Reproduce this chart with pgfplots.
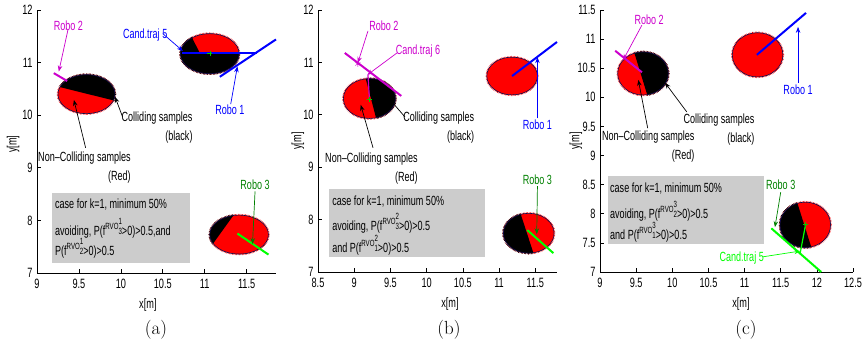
\documentclass[border=0pt]{standalone}
\usepackage{fontspec}
\usepackage{pgfplots}
\pgfplotsset{compat=1.18}
\usetikzlibrary{arrows.meta}
\newfontfamily\cf{Liberation Sans}[FakeStretch=0.68]
\definecolor{mag}{rgb}{0.8,0,0.8}
\definecolor{dkg}{rgb}{0,0.5,0}
\definecolor{lgr}{rgb}{0,1,0}
\definecolor{edgec}{rgb}{0.05,0.05,0.3}
\definecolor{boxg}{rgb}{0.8,0.8,0.8}
\tikzset{
  lab/.style={font=\cf\fontsize{13.3}{15}\selectfont, inner sep=0pt},
  lab2/.style={font=\cf\fontsize{13.3}{19}\selectfont, inner sep=0pt, align=right, anchor=north east},
  arr/.style={line width=0.7pt, -{Stealth[length=6pt,width=4.5pt]}},
  fuzz/.style={line width=2.4pt, dash pattern=on 0.5pt off 0.9pt},
}
\newcommand{\redblob}[4]{%
  \fill[red] (axis cs:#1,#2) ellipse [x radius=#3, y radius=#4];
  \draw[red, fuzz] (axis cs:#1,#2) ellipse [x radius=#3, y radius=#4];}
\newcommand{\blackpart}[5]{%
  \pgfplotsextra{\begin{scope}
    \clip #5;
    \fill[black] (axis cs:#1,#2) ellipse [x radius=#3, y radius=#4];
    \draw[black, fuzz] (axis cs:#1,#2) ellipse [x radius=#3, y radius=#4];
  \end{scope}}}
\newcommand{\edgeline}[4]{%
  \draw[edgec, line width=0.6pt] (axis cs:#1,#2) ellipse [x radius=#3, y radius=#4];}
\newcommand{\rvo}[2]{f\raisebox{0.8ex}{\fontsize{9}{9}\selectfont RVO}\raisebox{1.6ex}{\rlap{\fontsize{9}{9}\selectfont #2}}\raisebox{0.1ex}{\fontsize{9}{9}\selectfont #1}}
\pgfplotsset{rob/.style={scale only axis, axis lines=left,
  axis line style={-, line width=0.7pt}, tick align=inside,
  major tick length=3.5pt, tick style={black, line width=0.6pt}, clip=false,
  /pgf/number format/assume math mode=true,
  ticklabel style={font=\cf\fontsize{13.5}{13.5}\selectfont},
  xticklabel style={yshift=-3pt},
  yticklabel style={xshift=-1pt},
  label style={font=\cf\fontsize{13.5}{13.5}\selectfont},
  anchor=south west}}
\begin{document}
\begin{tikzpicture}
\path[use as bounding box] (0,0) rectangle (862pt,352pt);
% ---------------- (a) ----------------
\begin{axis}[rob, at={(37pt,79pt)}, width=239pt, height=263pt,
  xmin=9, xmax=11.85, ymin=7, ymax=12,
  xtick={9,9.5,10,10.5,11,11.5}, ytick={7,8,9,10,11,12},
  xlabel={x[m]}, ylabel={y[m]},
  xlabel style={at={(axis description cs:0.464,-0.12)}, anchor=center},
  ylabel style={at={(axis description cs:-0.100,0.49)}, anchor=center}]
\redblob{9.59}{10.40}{0.34}{0.37}
\blackpart{9.59}{10.40}{0.34}{0.37}{(axis cs:8.68,10.77) -- (axis cs:10.57,10.02) -- (axis cs:10.57,11.2) -- (axis cs:8.68,11.2) -- cycle}
\edgeline{9.59}{10.40}{0.34}{0.37}
\redblob{11.06}{11.17}{0.35}{0.38}
\blackpart{11.06}{11.17}{0.35}{0.38}{(axis cs:10.5,11.85) -- (axis cs:10.74,11.85) -- (axis cs:10.82,11.56) -- (axis cs:10.94,11.19) -- (axis cs:11.7,11.19) -- (axis cs:11.7,10.5) -- (axis cs:10.5,10.5) -- cycle}
\edgeline{11.06}{11.17}{0.35}{0.38}
\redblob{11.41}{7.73}{0.35}{0.37}
\blackpart{11.41}{7.73}{0.35}{0.37}{(axis cs:11.574,8.608) -- (axis cs:10.863,7.036) -- (axis cs:10.6,7.036) -- (axis cs:10.6,8.608) -- cycle}
\edgeline{11.41}{7.73}{0.35}{0.37}
\addplot[blue, line width=2pt] coordinates {(11.18,10.73) (11.85,11.44)};
\addplot[blue, line width=2pt] coordinates {(10.73,11.19) (11.62,11.19)};
\addplot[mag, line width=2pt] coordinates {(9.20,10.80) (9.36,10.65)};
\addplot[lgr, line width=2pt] coordinates {(11.39,7.75) (11.76,7.35)};
\addplot[only marks, mark=+, color={rgb,1:red,0;green,0.8;blue,0}, mark size=2.5pt] coordinates {(11.06,11.18)};
\fill[boxg] (axis cs:9.18,7.19) rectangle (axis cs:10.82,8.52);
\node[lab, anchor=west] at (axis cs:9.214,8.293) {case for k=1, minimum 50\%};
\node[lab, anchor=west] at (axis cs:9.214,7.856) {avoiding, P(\rvo{3}{1}>0)>0.5,and};
\node[lab, anchor=west] at (axis cs:9.214,7.475) {P(\rvo{2}{1}>0)>0.5};
\node[lab, text=mag] at (axis cs:9.375,11.71) {Robo 2};
\draw[mag, arr] (axis cs:9.37,11.63) -- (axis cs:9.26,10.83);
\node[lab, text=blue] at (axis cs:10.29,11.52) {Cand.traj 5};
\draw[blue, arr] (axis cs:10.50,11.55) -- (axis cs:10.74,11.22);
\node[lab, text=blue] at (axis cs:11.30,10.10) {Robo 1};
\draw[blue, arr] (axis cs:11.31,10.21) -- (axis cs:11.39,10.93);
\node[lab2] at (axis cs:10.857,10.07) {Colliding samples\\(black)};
\draw[black, arr] (axis cs:10.02,9.97) -- (axis cs:9.93,10.35);
\node[lab2] at (axis cs:10.12,9.31) {Non–Colliding samples\\(Red)};
\draw[black, arr] (axis cs:9.58,9.38) -- (axis cs:9.44,10.29);
\node[lab, text=dkg] at (axis cs:11.60,8.67) {Robo 3};
\draw[dkg, arr] (axis cs:11.60,8.55) -- (axis cs:11.57,7.55);
\end{axis}
% ---------------- (b) ----------------
\begin{axis}[rob, at={(318pt,80pt)}, width=239pt, height=262pt,
  xmin=8.5, xmax=11.8, ymin=7, ymax=12,
  xtick={8.5,9,9.5,10,10.5,11,11.5}, ytick={7,8,9,10,11,12},
  xlabel={x[m]}, ylabel={y[m]},
  xlabel style={at={(axis description cs:0.552,-0.124)}, anchor=center},
  ylabel style={at={(axis description cs:-0.084,0.5)}, anchor=center}]
\redblob{9.21}{10.31}{0.36}{0.38}
\blackpart{9.21}{10.31}{0.36}{0.38}{(axis cs:9.026,11.389) -- (axis cs:9.44,9.214) -- (axis cs:10.2,9.214) -- (axis cs:10.2,11.389) -- cycle}
\edgeline{9.21}{10.31}{0.36}{0.38}
\redblob{11.18}{10.74}{0.35}{0.36}
\edgeline{11.18}{10.74}{0.35}{0.36}
\redblob{11.41}{7.74}{0.35}{0.38}
\blackpart{11.41}{7.74}{0.35}{0.38}{(axis cs:11.114,8.889) -- (axis cs:11.654,6.6) -- (axis cs:10.6,6.6) -- (axis cs:10.6,8.889) -- cycle}
\edgeline{11.41}{7.74}{0.35}{0.38}
\addplot[mag, line width=2pt] coordinates {(8.87,11.18) (9.65,10.36)};
\addplot[mag, line width=1.2pt] coordinates {(9.19,10.76) (9.21,10.30)};
\addplot[blue, line width=2pt] coordinates {(11.18,10.74) (11.80,11.39)};
\addplot[lgr, line width=2pt] coordinates {(11.39,7.80) (11.75,7.36)};
\addplot[only marks, mark=+, color={rgb,1:red,0;green,0.8;blue,0}, mark size=2.5pt] coordinates {(9.21,10.30)};
\addplot[only marks, mark=asterisk, mag, mark size=3pt] coordinates {(9.05,10.97)};
\fill[boxg] (axis cs:8.65,7.29) rectangle (axis cs:10.81,8.58);
\node[lab, anchor=west] at (axis cs:8.694,8.336) {case for k=1, minimum 50\%};
\node[lab, anchor=west] at (axis cs:8.694,7.935) {avoiding, P(\rvo{3}{2}>0)>0.5};
\node[lab, anchor=west] at (axis cs:8.694,7.515) {and P(\rvo{1}{2}>0)>0.5};
\node[lab, text=mag] at (axis cs:9.41,11.70) {Robo 2};
\draw[mag, arr] (axis cs:9.19,11.60) -- (axis cs:9.05,10.99);
\node[lab, text=mag] at (axis cs:9.88,11.22) {Cand.traj 6};
\draw[mag, arr] (axis cs:9.59,11.18) -- (axis cs:9.18,10.76);
\node[lab2] at (axis cs:10.66,10.06) {Colliding samples\\(black)};
\draw[black, arr] (axis cs:9.70,9.96) -- (axis cs:9.50,10.28);
\node[lab2] at (axis cs:9.88,9.28) {Non–Colliding samples\\(Red)};
\draw[black, arr] (axis cs:9.26,9.37) -- (axis cs:9.09,10.19);
\node[lab, text=blue] at (axis cs:11.53,9.81) {Robo 1};
\draw[blue, arr] (axis cs:11.53,9.93) -- (axis cs:11.53,11.10);
\node[lab, text=dkg] at (axis cs:11.53,8.77) {Robo 3};
\draw[dkg, arr] (axis cs:11.53,8.64) -- (axis cs:11.52,7.72);
\end{axis}
% ---------------- (c) ----------------
\begin{axis}[rob, at={(600pt,80pt)}, width=253pt, height=262pt,
  xmin=9, xmax=12.5, ymin=7, ymax=11.5,
  xtick={9,9.5,10,10.5,11,11.5,12,12.5}, ytick={7,7.5,8,8.5,9,9.5,10,10.5,11,11.5},
  xlabel={x[m]}, ylabel={y[m]},
  xlabel style={at={(axis description cs:0.557,-0.124)}, anchor=center},
  ylabel style={at={(axis description cs:-0.095,0.5)}, anchor=center}]
\redblob{9.595}{10.41}{0.35}{0.37}
\blackpart{9.595}{10.41}{0.35}{0.37}{(axis cs:9.318,11.397) -- (axis cs:9.816,9.387) -- (axis cs:10.4,9.387) -- (axis cs:10.4,11.397) -- cycle}
\edgeline{9.595}{10.41}{0.35}{0.37}
\redblob{11.18}{10.73}{0.35}{0.38}
\edgeline{11.18}{10.73}{0.35}{0.38}
\redblob{11.84}{7.81}{0.35}{0.39}
\blackpart{11.84}{7.81}{0.35}{0.39}{(axis cs:11.573,8.803) -- (axis cs:12.071,6.844) -- (axis cs:11.2,6.844) -- (axis cs:11.2,8.803) -- cycle}
\edgeline{11.84}{7.81}{0.35}{0.39}
\addplot[mag, line width=2pt] coordinates {(9.21,10.80) (9.58,10.43)};
\addplot[blue, line width=2pt] coordinates {(11.17,10.73) (11.85,11.45)};
\addplot[lgr, line width=2pt] coordinates {(11.37,7.75) (12.06,7.0)};
\addplot[lgr, line width=1.2pt] coordinates {(11.845,7.82) (11.77,7.33)};
\addplot[only marks, mark=+, color={rgb,1:red,0;green,0.8;blue,0}, mark size=2.5pt] coordinates {(11.845,7.82)};
\fill[boxg] (axis cs:9.11,7.48) rectangle (axis cs:11.27,8.65);
\node[lab, anchor=west] at (axis cs:9.138,8.442) {case for k=1, minimum 50\%};
\node[lab, anchor=west] at (axis cs:9.138,8.046) {avoiding, P(\rvo{2}{3}>0)>0.5};
\node[lab, anchor=west] at (axis cs:9.138,7.686) {and P(\rvo{1}{3}>0)>0.5};
\node[lab, text=mag] at (axis cs:9.68,11.33) {Robo 2};
\draw[mag, arr] (axis cs:9.58,11.24) -- (axis cs:9.32,10.64);
\node[lab2] at (axis cs:11.14,9.72) {Colliding samples\\(black)};
\draw[black, arr] (axis cs:10.20,9.75) -- (axis cs:9.90,10.25);
\node[lab2] at (axis cs:10.31,9.43) {Non–Colliding samples\\(Red)};
\draw[black, arr] (axis cs:9.66,9.47) -- (axis cs:9.53,10.30);
\node[lab, text=blue] at (axis cs:11.74,10.13) {Robo 1};
\draw[blue, arr] (axis cs:11.74,10.25) -- (axis cs:11.74,11.21);
\node[lab, text=dkg] at (axis cs:11.50,8.49) {Robo 3};
\draw[dkg, arr] (axis cs:11.50,8.37) -- (axis cs:11.42,7.77);
\node[lab, text=lgr] at (axis cs:10.96,7.24) {Cand.traj 5};
\draw[lgr, arr] (axis cs:11.25,7.26) -- (axis cs:11.77,7.36);
\end{axis}
% captions
\node[font=\fontsize{19}{21}\selectfont] at (156pt,22pt) {(a)};
\node[font=\fontsize{19}{21}\selectfont] at (449pt,22pt) {(b)};
\node[font=\fontsize{19}{21}\selectfont] at (746pt,22pt) {(c)};
\end{tikzpicture}
\end{document}
